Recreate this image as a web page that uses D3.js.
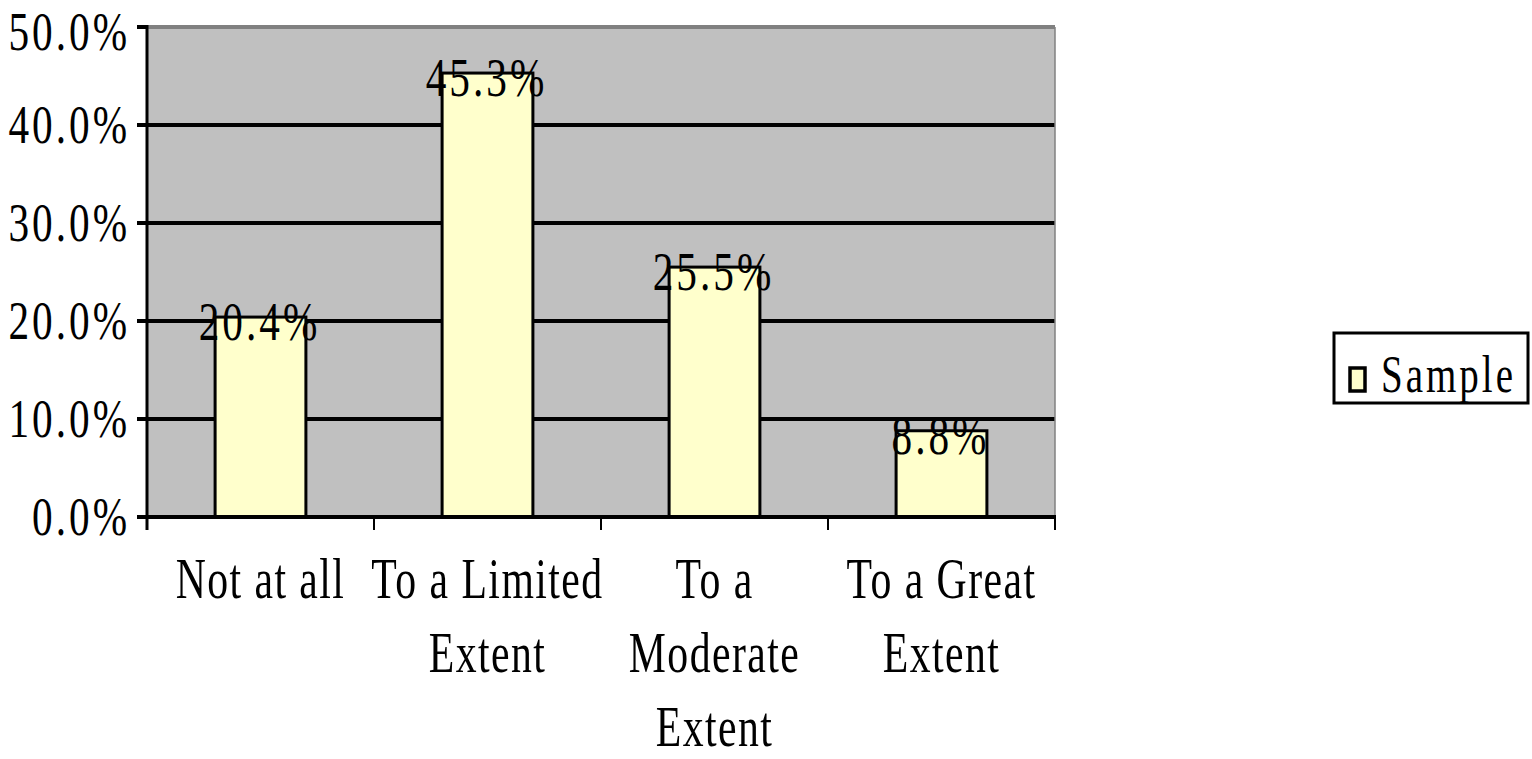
<!DOCTYPE html>
<html><head><meta charset="utf-8">
<script src="https://cdn.jsdelivr.net/npm/d3@7"></script>
<style>
html,body{margin:0;padding:0;background:#fff;}
svg{display:block;}
text{font-family:"Liberation Serif","Times New Roman",serif;fill:#000;}
</style></head><body>
<svg id="chart" width="1532" height="759"></svg>
<script>
const categories = ["Not at all", "To a Limited Extent", "To a Moderate Extent", "To a Great Extent"];
const categoryLines = [["Not at all"], ["To a Limited", "Extent"], ["To a", "Moderate", "Extent"], ["To a Great", "Extent"]];
const values = [0.204, 0.453, 0.255, 0.088];
const valueLabels = ["20.4%", "45.3%", "25.5%", "8.8%"];
const yTicks = [0, 0.1, 0.2, 0.3, 0.4, 0.5];
const yTickLabels = ["0.0%", "10.0%", "20.0%", "30.0%", "40.0%", "50.0%"];
const seriesName = "Sample";

(function () {
const svg = d3.select("#chart");
const pLeft = 147, pRight = 1055, pTop = 27, pBottom = 517;

const x = d3.scaleBand().domain(categories).range([pLeft, pRight]).padding(0);
const y = d3.scaleLinear().domain([0, 0.5]).range([pBottom, pTop]);

function label(g, px, py, txt, anchor, fs, sx, ls) {
  g.append("g").attr("transform", `translate(${px},${py}) scale(${sx},1)`)
    .append("text").attr("text-anchor", anchor).attr("font-size", fs)
    .attr("letter-spacing", ls).text(txt);
}

svg.append("rect").attr("x", pLeft).attr("y", pTop).attr("width", pRight - pLeft).attr("height", pBottom - pTop).attr("fill", "#c0c0c0");

svg.append("g").selectAll("line").data(yTicks.filter(t => t > 0 && t < 0.5)).join("line")
  .attr("x1", pLeft).attr("x2", pRight).attr("y1", d => y(d)).attr("y2", d => y(d))
  .attr("stroke", "#000").attr("stroke-width", 4);
svg.append("line").attr("x1", pLeft).attr("x2", pRight).attr("y1", y(0.5)).attr("y2", y(0.5)).attr("stroke", "#808080").attr("stroke-width", 4);
svg.append("line").attr("x1", pRight).attr("x2", pRight).attr("y1", pTop).attr("y2", pBottom).attr("stroke", "#808080").attr("stroke-width", 1.5);

const bw = x.bandwidth() * 0.4;
svg.append("g").selectAll("rect").data(values).join("rect")
  .attr("x", (d, i) => x(categories[i]) + x.bandwidth() / 2 - bw / 2)
  .attr("y", d => y(d)).attr("width", bw).attr("height", d => y(0) - y(d))
  .attr("fill", "#ffffcc").attr("stroke", "#000").attr("stroke-width", 3);

svg.append("line").attr("x1", pLeft).attr("x2", pLeft).attr("y1", pTop - 2).attr("y2", pBottom + 13).attr("stroke", "#000").attr("stroke-width", 3);
svg.append("line").attr("x1", pLeft - 10).attr("x2", pRight + 1).attr("y1", pBottom).attr("y2", pBottom).attr("stroke", "#000").attr("stroke-width", 4);
svg.append("g").selectAll("line").data(yTicks).join("line")
  .attr("x1", pLeft - 10).attr("x2", pLeft).attr("y1", d => y(d)).attr("y2", d => y(d))
  .attr("stroke", "#000").attr("stroke-width", 4);
const xb = categories.map(c => x(c)).concat([pRight]);
svg.append("g").selectAll("line").data(xb).join("line")
  .attr("x1", d => d).attr("x2", d => d).attr("y1", pBottom).attr("y2", pBottom + 13)
  .attr("stroke", "#000").attr("stroke-width", 2);

const gy = svg.append("g");
yTicks.forEach((t, i) => label(gy, 130, Math.max(y(t) + 18, 50), yTickLabels[i], "end", 55, 0.75, 4));

const gv = svg.append("g");
values.forEach((v, i) => label(gv, x(categories[i]) + x.bandwidth() / 2 - 1, y(v) + 23, valueLabels[i], "middle", 55, 0.75, 4));

const gx = svg.append("g");
categoryLines.forEach((lines, i) => {
  lines.forEach((ln, j) => label(gx, x(categories[i]) + x.bandwidth() / 2, 598 + j * 74, ln, "middle", 58, 0.72, 2));
});

svg.append("rect").attr("x", 1334).attr("y", 333).attr("width", 194).attr("height", 70).attr("fill", "#fff").attr("stroke", "#000").attr("stroke-width", 3);
svg.append("rect").attr("x", 1350).attr("y", 368).attr("width", 15).attr("height", 23).attr("fill", "#ffffcc").attr("stroke", "#000").attr("stroke-width", 3.5);
label(svg, 1381, 392, seriesName, "start", 52, 0.75, 4);
})();
</script>
</body></html>
